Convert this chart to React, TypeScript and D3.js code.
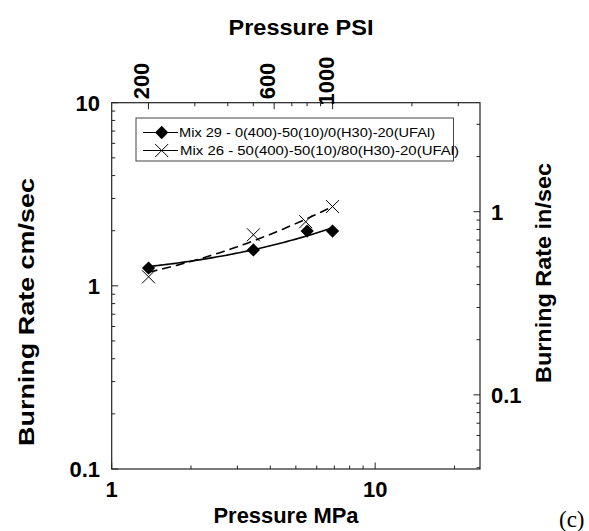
import React, { useRef, useEffect } from 'react';
import * as d3 from 'd3';

// Mix 29 (diamonds, solid fit) and Mix 26 (crosses, dashed fit)
const pressureMix29 = [1.38, 3.45, 5.52, 6.89];
const rateMix29 = [1.25, 1.57, 1.99, 1.99];
const pressureMix26 = [1.38, 3.45, 5.45, 6.89];
const rateMix26 = [1.12, 1.9, 2.24, 2.71];

const seriesNames = [
  'Mix 29 - 0(400)-50(10)/0(H30)-20(UFAl)',
  'Mix 26 - 50(400)-50(10)/80(H30)-20(UFAl)',
];

const mpaTickLabels = [1, 10];
const cmTickLabels = [0.1, 1, 10];
const psiTickLabels = [200, 600, 1000];
const inTickLabels = [0.1, 1];

const PSI_PER_MPA = 145.038;
const CM_PER_IN = 2.54;
const FONT = '"Liberation Sans", Arial, Helvetica, sans-serif';

// straight least squares line in linear units, as the original plot did
const linearFit = (xs: number[], ys: number[]) => {
  const mx = d3.mean(xs) as number;
  const my = d3.mean(ys) as number;
  const sxy = d3.sum(xs, (x, i) => (x - mx) * (ys[i] - my));
  const sxx = d3.sum(xs, (x) => (x - mx) * (x - mx));
  const b = sxy / sxx;
  const a = my - b * mx;
  return (x: number) => a + b * x;
};

const App = () => {
  const svgRef = useRef<SVGSVGElement>(null);

  useEffect(() => {
    const svg = d3.select(svgRef.current);
    svg.selectAll('*').remove();

    const left = 111.7, right = 480, top = 102.7, bottom = 469;

    const x = d3.scaleLog().domain([1, 25]).range([left, right]);
    const y = d3.scaleLog().domain([0.1, 10]).range([bottom, top]);
    const xPsi = d3.scaleLog().domain([PSI_PER_MPA, 25 * PSI_PER_MPA]).range([left, right]);
    const yIn = d3.scaleLog().domain([0.1 / CM_PER_IN, 10 / CM_PER_IN]).range([bottom, top]);

    const g = svg.append('g');

    // ticks, all pointing into the frame
    const major = 6.5, minor = 3.5;
    x.ticks().forEach((v) => {
      const len = mpaTickLabels.includes(v) ? major : minor;
      g.append('line').attr('x1', x(v)).attr('x2', x(v)).attr('y1', bottom).attr('y2', bottom - len);
    });
    xPsi.ticks().forEach((v) => {
      const len = psiTickLabels.includes(v) ? major : minor;
      g.append('line').attr('x1', xPsi(v)).attr('x2', xPsi(v)).attr('y1', top).attr('y2', top + len);
    });
    y.ticks().forEach((v) => {
      const len = cmTickLabels.includes(+v.toPrecision(3)) ? major : minor;
      g.append('line').attr('x1', left).attr('x2', left + len).attr('y1', y(v)).attr('y2', y(v));
    });
    yIn.ticks().forEach((v) => {
      const len = inTickLabels.includes(+v.toPrecision(3)) ? major : minor;
      g.append('line').attr('x1', right).attr('x2', right - len).attr('y1', yIn(v)).attr('y2', yIn(v));
    });
    g.selectAll('line').attr('stroke', '#222').attr('stroke-width', 1);

    // frame
    g.append('rect')
      .attr('x', left).attr('y', top)
      .attr('width', right - left).attr('height', bottom - top)
      .attr('fill', 'none').attr('stroke', '#222').attr('stroke-width', 1.2);

    const bold = (sel: any, size = 22) =>
      sel.attr('font-family', FONT).attr('font-weight', 'bold').attr('font-size', size).attr('fill', '#000');

    // tick labels
    mpaTickLabels.forEach((v) => {
      bold(g.append('text')).attr('x', x(v)).attr('y', 497).attr('text-anchor', 'middle').text(v);
    });
    cmTickLabels.forEach((v) => {
      bold(g.append('text')).attr('x', 100).attr('y', y(v)).attr('dy', '0.36em').attr('text-anchor', 'end').text(v);
    });
    inTickLabels.forEach((v) => {
      bold(g.append('text')).attr('x', 491).attr('y', yIn(v)).attr('dy', '0.36em').attr('text-anchor', 'start').text(v);
    });
    psiTickLabels.forEach((v) => {
      bold(g.append('text'), 22)
        .attr('transform', `translate(${xPsi(v) + 1},81) rotate(-90)`)
        .attr('text-anchor', 'middle').text(v);
    });

    // axis titles
    bold(g.append('text')).attr('x', 301).attr('y', 35).attr('text-anchor', 'middle')
      .attr('textLength', 145).attr('lengthAdjust', 'spacingAndGlyphs').text('Pressure PSI');
    bold(g.append('text')).attr('x', 286).attr('y', 523).attr('text-anchor', 'middle')
      .attr('textLength', 145).attr('lengthAdjust', 'spacingAndGlyphs').text('Pressure MPa');
    bold(g.append('text')).attr('transform', 'translate(34,312) rotate(-90)').attr('text-anchor', 'middle')
      .attr('textLength', 268).attr('lengthAdjust', 'spacingAndGlyphs').text('Burning Rate cm/sec');
    bold(g.append('text')).attr('transform', 'translate(551,273) rotate(-90)').attr('text-anchor', 'middle')
      .attr('textLength', 220).attr('lengthAdjust', 'spacingAndGlyphs').text('Burning Rate in/sec');

    g.append('text')
      .attr('x', 559).attr('y', 527)
      .attr('font-family', '"Liberation Serif", "Times New Roman", serif')
      .attr('font-size', 23).text('(c)');

    // fitted lines
    const line = d3.line<number>().x((p) => x(p[0])).y((p) => y(p[1]));
    const fitPath = (xs: number[], ys: number[]) => {
      const f = linearFit(xs, ys);
      const lo = Math.log10(d3.min(xs) as number);
      const hi = Math.log10(d3.max(xs) as number);
      const pts = d3.range(0, 61).map((i) => {
        const px = Math.pow(10, lo + ((hi - lo) * i) / 60);
        return [px, f(px)];
      });
      return d3.line().x((p) => x(p[0])).y((p) => y(p[1]))(pts as any);
    };
    g.append('path').attr('d', fitPath(pressureMix29, rateMix29))
      .attr('fill', 'none').attr('stroke', '#000').attr('stroke-width', 1.6);
    g.append('path').attr('d', fitPath(pressureMix26, rateMix26))
      .attr('fill', 'none').attr('stroke', '#000').attr('stroke-width', 1.6)
      .attr('stroke-dasharray', '9,5');

    const diamond = d3.symbol(d3.symbolSquare, 88)();
    const cross = d3.symbol(d3.symbolTimes, 112)();

    pressureMix29.forEach((p, i) => {
      g.append('path').attr('d', diamond)
        .attr('transform', `translate(${x(p)},${y(rateMix29[i])}) rotate(45)`)
        .attr('fill', '#000');
    });
    pressureMix26.forEach((p, i) => {
      g.append('path').attr('d', cross)
        .attr('transform', `translate(${x(p)},${y(rateMix26[i])})`)
        .attr('fill', 'none').attr('stroke', '#000').attr('stroke-width', 1);
    });

    // legend
    const legend = g.append('g');
    legend.append('rect')
      .attr('x', 136).attr('y', 118).attr('width', 317.5).attr('height', 43)
      .attr('fill', '#fff').attr('stroke', '#444').attr('stroke-width', 1);
    const rows = [
      { cy: 132.5, sym: diamond, filled: true, len: 256, tx: 179 },
      { cy: 150.5, sym: cross, filled: false, len: 279, tx: 180 },
    ];
    rows.forEach((r, i) => {
      legend.append('line').attr('x1', 143).attr('x2', 178).attr('y1', r.cy).attr('y2', r.cy)
        .attr('stroke', '#000').attr('stroke-width', 1.2);
      legend.append('path').attr('d', r.sym)
        .attr('transform', `translate(161.7,${r.cy})${r.filled ? ' rotate(45)' : ''}`)
        .attr('fill', r.filled ? '#000' : 'none')
        .attr('stroke', r.filled ? 'none' : '#000');
      legend.append('text')
        .attr('x', r.tx).attr('y', r.cy + 4.2)
        .attr('font-family', FONT).attr('font-size', 12.5)
        .attr('textLength', r.len).attr('lengthAdjust', 'spacingAndGlyphs')
        .text(seriesNames[i]);
    });
  }, []);

  return (
    <svg
      ref={svgRef}
      width={589}
      height={531}
      style={{ position: 'absolute', left: 0, top: 0, background: '#fff' }}
    />
  );
};

export default App;
